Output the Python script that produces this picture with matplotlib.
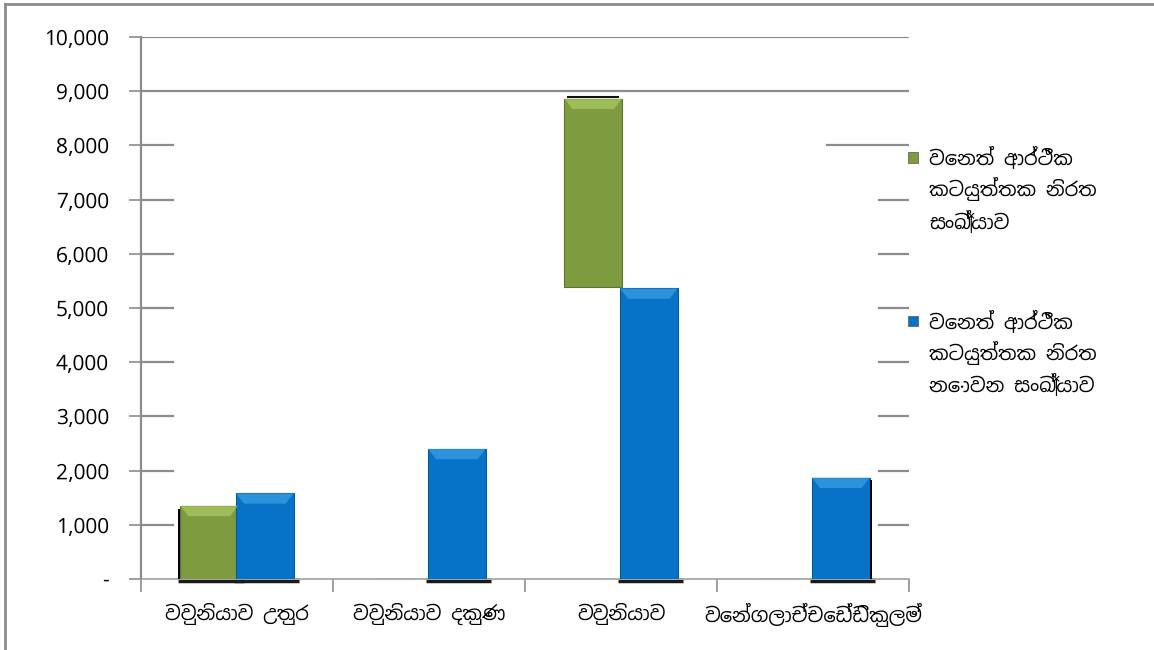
import matplotlib
matplotlib.use("Agg")
import matplotlib.pyplot as plt
import matplotlib.font_manager as fm
from matplotlib.patches import Rectangle, Polygon
from matplotlib.lines import Line2D
from matplotlib.ticker import FuncFormatter
import matplotlib.transforms as mtransforms
import numpy as np

categories = ["වවුනියාව උතුර", "වවුනියාව දකුණ", "වවුනියාව", "වෙන්ගලාච්චෙඩ්ඩිකුලම්"]
engaged = [1350, 0, 3470, 0]            # green series
engaged_bottom = [0, 0, 5390, 0]        # green bar for වවුනියාව floats in the source
not_engaged = [1580, 2400, 5360, 1870]  # blue series
legend_labels = [
    "වෙනත් ආර්ථීක\nකටයුත්තක නිරත\nසංඛ්‍යාව",
    "වෙනත් ආර්ථීක\nකටයුත්තක නිරත\nනොවන සංඛ්‍යාව",
]
yticks = [0, 1000, 2000, 3000, 4000, 5000, 6000, 7000, 8000, 9000, 10000]

GREEN = "#7f9b3f"
GREEN_LIGHT = "#a9c863"
BLUE = "#0773c8"
BLUE_LIGHT = "#3a9de4"
GRID = "#8c8c8c"


def find_sinhala_font():
    for f in fm.fontManager.ttflist:
        if "sinhala" in f.name.lower() or "iskoola" in f.name.lower():
            return f.name
    return None


sinhala = find_sinhala_font()
families = [sinhala, "DejaVu Sans"] if sinhala else ["DejaVu Sans"]
plt.rcParams["font.family"] = families

fig = plt.figure(figsize=(11.54, 6.5), dpi=100)
ax = fig.add_axes([0.1222, 0.1092, 0.6655, 0.8339])

x = np.arange(len(categories))
w = 0.30
off = 0.145

green_bars = ax.bar(x - off, engaged, w, bottom=engaged_bottom, color=GREEN,
                    edgecolor="#5d7430", linewidth=0.8, zorder=3)
blue_bars = ax.bar(x + off, not_engaged, w, color=BLUE,
                   edgecolor="#055a9c", linewidth=0.8, zorder=3)

# bevel on top of every column + dark shadow strip on the floor
shadow = mtransforms.offset_copy(ax.transData, fig=fig, x=0, y=-2, units="dots")
above = mtransforms.offset_copy(ax.transData, fig=fig, x=0, y=2, units="dots")
for bars, light in ((green_bars, GREEN_LIGHT), (blue_bars, BLUE_LIGHT)):
    for b in bars:
        if b.get_height() <= 0:
            continue
        x0, y0 = b.get_x(), b.get_y()
        bw, bh = b.get_width(), b.get_height()
        top = y0 + bh
        dx = bw * 0.14
        dy = 190
        ax.add_patch(Polygon([(x0, top), (x0 + bw, top), (x0 + bw - dx, top - dy),
                              (x0 + dx, top - dy)], closed=True,
                             facecolor=light, edgecolor="none", alpha=0.75, zorder=4))
        if y0 == 0:
            ax.plot([x0 - 0.01, x0 + bw + 0.03], [0, 0], color="#1a1a1a", lw=2.5,
                    transform=shadow, zorder=2, clip_on=False, solid_capstyle="butt")
        else:
            ax.plot([x0 + 0.02, x0 + bw - 0.02], [top, top], color="#111111", lw=1.5,
                    transform=above, zorder=4)

# black side shadows seen in the source
g0 = green_bars[0]
ax.add_patch(Rectangle((g0.get_x() - 0.012, 0), 0.012, g0.get_height() * 0.96,
                       facecolor="black", edgecolor="none", zorder=3))
b3 = blue_bars[3]
ax.add_patch(Rectangle((b3.get_x() + b3.get_width(), 0), 0.012, b3.get_height() * 0.98,
                       facecolor="black", edgecolor="none", zorder=3))

ax.set_xlim(-0.5, len(categories) - 0.5)
ax.set_ylim(0, 10000)
ax.set_yticks(yticks)
ax.yaxis.set_major_formatter(FuncFormatter(lambda v, p: "-" if v == 0 else f"{int(v):,}"))

# gridlines: the back wall hides most of them below 9,000
ytr = ax.get_yaxis_transform()
for v in yticks[1:]:
    if v >= 9000:
        ax.plot([0, 1], [v, v], color=GRID, lw=1.6, transform=ytr, zorder=1)
    else:
        ax.plot([0, 0.042], [v, v], color=GRID, lw=1.6, transform=ytr, zorder=1)
        right_start = 0.893 if v == 8000 else 0.961
        ax.plot([right_start, 1], [v, v], color=GRID, lw=1.6, transform=ytr, zorder=1)

ax.set_xticks(np.arange(len(categories) + 1) - 0.5, minor=False)
ax.set_xticklabels([])
ax.set_xticks(x, minor=True)
ax.set_xticklabels(categories, minor=True, fontsize=14)
ax.tick_params(axis="x", which="minor", length=0, pad=17)
ax.tick_params(axis="x", which="major", length=9, width=1.2, color=GRID)
ax.tick_params(axis="y", length=9, width=1.2, color=GRID, pad=14, labelsize=15)

for s in ("top", "right"):
    ax.spines[s].set_visible(False)
ax.spines["left"].set_color(GRID)
ax.spines["left"].set_linewidth(1.6)
ax.spines["bottom"].set_color("#a0a0a0")
ax.spines["bottom"].set_linewidth(1.2)

# legend drawn at the right, marker beside first line of each label
for label, color, ytop in ((legend_labels[0], GREEN, 0.752), (legend_labels[1], BLUE, 0.500)):
    fig.add_artist(Rectangle((0.7865, ytop - 0.002), 0.0087, 0.0155, transform=fig.transFigure,
                             facecolor=color, edgecolor="#555555", linewidth=0.5))
    fig.text(0.805, ytop + 0.024, label, fontsize=14, va="top", ha="left", linespacing=1.45)

# outer frame (left and top only visible)
fig.add_artist(Line2D([0.0045, 0.0045], [0, 0.994], color="#8c8c8c", lw=2, transform=fig.transFigure))
fig.add_artist(Line2D([0.0045, 1], [0.994, 0.994], color="#8c8c8c", lw=2, transform=fig.transFigure))

fig.savefig("out.png", dpi=100)
